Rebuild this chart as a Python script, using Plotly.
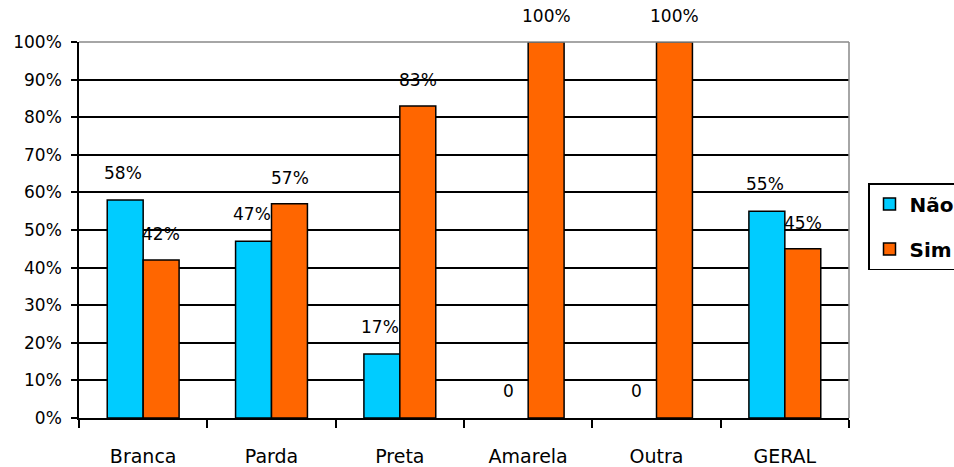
import plotly.graph_objects as go

categories = ["Branca", "Parda", "Preta", "Amarela", "Outra", "GERAL"]
nao = [0.58, 0.47, 0.17, 0.0, 0.0, 0.55]
sim = [0.42, 0.57, 0.83, 1.0, 1.0, 0.45]
tick_vals = [i / 10 for i in range(11)]
tick_text = [f"{i*10}%" for i in range(11)]


def fmt(v):
    return "0" if v == 0 else f"{round(v*100)}%"


FONT = "DejaVu Sans"
W, H = 990, 467
L, T, B = 79, 42, 49
PR = 849  # plot right edge in pixels


def outline(vals):
    return dict(color="black", width=[1.5 if v > 0 else 0 for v in vals])


fig = go.Figure()
fig.add_trace(go.Bar(name="Não", x=categories, y=nao, legendgroup="a",
                     marker=dict(color="#00CCFF", line=outline(nao))))
fig.add_trace(go.Bar(name="Sim", x=categories, y=sim, legendgroup="b",
                     marker=dict(color="#FF6600", line=outline(sim))))

ann = []
for c, v in zip(categories, nao):
    ann.append(dict(x=c, y=v, xref="x", yref="y", text=fmt(v), showarrow=False,
                    xshift=-20, yshift=27, font=dict(family=FONT, size=17, color="black")))
for c, v in zip(categories, sim):
    ann.append(dict(x=c, y=v, xref="x", yref="y", text=fmt(v), showarrow=False,
                    xshift=18, yshift=26, font=dict(family=FONT, size=17, color="black")))

fig.update_layout(
    width=W, height=H,
    margin=dict(l=L, r=W - PR, t=T, b=B, autoexpand=False),
    paper_bgcolor="white", plot_bgcolor="white",
    barmode="group", bargap=0.44, bargroupgap=0,
    font=dict(family=FONT, size=16, color="black"),
    annotations=ann,
    showlegend=True,
    legend=dict(x=(868 - L) / (PR - L), y=(418 - 183) / 376, xanchor="left", yanchor="top",
                bordercolor="black", borderwidth=1.5, bgcolor="white",
                font=dict(family=FONT, size=20, color="black", weight="bold"),
                itemwidth=30, tracegroupgap=16, traceorder="grouped"),
    shapes=[
        dict(type="line", xref="paper", yref="paper", x0=0, x1=1, y0=1, y1=1,
             line=dict(color="#888888", width=1.5)),
        dict(type="line", xref="paper", yref="paper", x0=1, x1=1, y0=0, y1=1,
             line=dict(color="#888888", width=1.5)),
    ],
)
fig.update_xaxes(showline=True, linecolor="black", linewidth=1.5,
                 ticks="outside", tickson="boundaries", ticklen=8, tickcolor="black",
                 tickwidth=1.5, ticklabelstandoff=20,
                 tickfont=dict(family=FONT, size=19), showgrid=False)
fig.update_yaxes(range=[0, 1], tickvals=tick_vals, ticktext=tick_text,
                 showline=True, linecolor="black", linewidth=1.5,
                 ticks="outside", ticklen=6, tickcolor="black", tickwidth=1.5,
                 ticklabelstandoff=6,
                 showgrid=True, gridcolor="black", gridwidth=1.5, zeroline=False,
                 tickfont=dict(family=FONT, size=17))
fig.write_html("out.html", config={"displayModeBar": False},
               post_script="document.body.style.margin='0px';document.body.style.overflow='hidden';")
